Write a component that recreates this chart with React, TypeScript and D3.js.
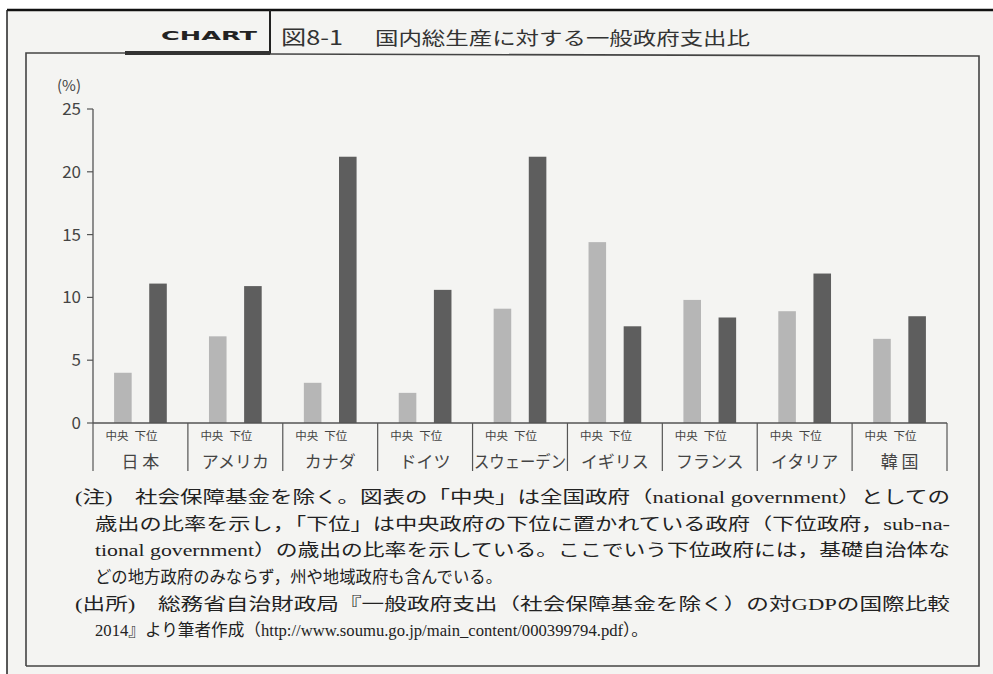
import React from "react";
import * as d3 from "d3";

const width = 993;
const height = 674;

const countries = ["日 本", "アメリカ", "カナダ", "ドイツ", "スウェーデン", "イギリス", "フランス", "イタリア", "韓 国"];
const series = ["中央", "下位"];
const central = [4.0, 6.9, 3.2, 2.4, 9.1, 14.4, 9.8, 8.9, 6.7];
const lower = [11.1, 10.9, 21.2, 10.6, 21.2, 7.7, 8.4, 11.9, 8.5];
const yTicks = [0, 5, 10, 15, 20, 25];

const notes = [
  "(注)　社会保障基金を除く。図表の「中央」は全国政府（national government）としての",
  "歳出の比率を示し，「下位」は中央政府の下位に置かれている政府（下位政府，sub-na-",
  "tional government）の歳出の比率を示している。ここでいう下位政府には，基礎自治体な",
  "どの地方政府のみならず，州や地域政府も含んでいる。",
  "(出所)　総務省自治財政局『一般政府支出（社会保障基金を除く）の対GDPの国際比較",
  "2014』より筆者作成（http://www.soumu.go.jp/main_content/000399794.pdf）。",
];

const margin = { top: 109, left: 93, right: 46, bottom: 251 };
const colors = { 中央: "#b6b6b6", 下位: "#5e5e5e" };
const sans = "'Noto Sans CJK JP', 'Noto Sans', sans-serif";
const serif = "'Liberation Serif', 'Noto Sans CJK JP', serif";

export default function App() {
  const data = countries.map((c, i) => ({ country: c, 中央: central[i], 下位: lower[i] }));

  const x0 = d3.scaleBand().domain(countries).range([margin.left, width - margin.right]);
  const x1 = d3.scaleBand().domain(series).range([0, x0.bandwidth()]).paddingInner(0.5).paddingOuter(0.6);
  const y = d3.scaleLinear().domain([0, 25]).range([height - margin.bottom, margin.top]);
  const y0 = y(0);

  // note lines: [x, baseline, fitted length]
  const noteLayout = [
    [75, 503, 875], [95, 530, 855], [95, 556, 855],
    [95, 583, 407], [75, 610, 875], [95, 636, 553],
  ];

  return (
    <svg width={width} height={height} style={{ position: "absolute", left: 0, top: 0 }}>
      <rect x={0} y={0} width={width} height={height} fill="#ffffff" />
      <rect x={7} y={10} width={width - 7} height={height - 10} fill="#f4f4f2" />
      <line x1={7} x2={width} y1={10} y2={10} stroke="#111" strokeWidth={2.5} />
      <line x1={7} x2={7} y1={10} y2={height} stroke="#222" strokeWidth={1.5} />

      {/* header */}
      <text x={161} y={40} fontFamily="'DejaVu Sans', sans-serif" fontWeight="bold" fontSize={13}
        textLength={96} lengthAdjust="spacingAndGlyphs" fill="#222">CHART</text>
      <line x1={270} x2={270} y1={10} y2={54} stroke="#222" strokeWidth={2} />
      <line x1={125} x2={270} y1={53} y2={53} stroke="#333" strokeWidth={4} />
      <text x={281} y={45} fontFamily={sans} fontSize={20} fill="#333"
        textLength={62} lengthAdjust="spacingAndGlyphs">図8-1</text>
      <text x={375} y={45} fontFamily={sans} fontSize={18} fill="#333"
        textLength={375} lengthAdjust="spacingAndGlyphs">国内総生産に対する一般政府支出比</text>

      {/* inner box */}
      <path d={`M26,${height - 8} L26,53 L125,53 M270,54 L979,56 L979,${height - 8} L26,${height - 8}`}
        fill="none" stroke="#444" strokeWidth={1.6} />

      {/* y axis */}
      <text x={57} y={91} fontFamily={sans} fontSize={15} fill="#444">(%)</text>
      <line x1={margin.left} x2={margin.left} y1={y(25)} y2={y0} stroke="#555" strokeWidth={1.3} />
      {yTicks.map(t => (
        <g key={t}>
          <line x1={margin.left - 6} x2={margin.left} y1={y(t)} y2={y(t)} stroke="#555" strokeWidth={1.2} />
          <text x={81} y={y(t)} dy="0.35em" textAnchor="end" fontFamily={sans} fontSize={17} fill="#444">{t}</text>
        </g>
      ))}

      {/* bars */}
      {data.map(d => (
        <g key={d.country} transform={`translate(${x0(d.country)},0)`}>
          {series.map(s => (
            <rect key={s} x={x1(s)} y={y(d[s])} width={x1.bandwidth()} height={y0 - y(d[s])} fill={colors[s]} />
          ))}
        </g>
      ))}

      {/* category axis */}
      <line x1={margin.left} x2={width - margin.right} y1={y0} y2={y0} stroke="#555" strokeWidth={1.3} />
      {countries.concat([""]).map((c, i) => {
        const gx = margin.left + i * x0.step();
        return <line key={"sep" + i} x1={gx} x2={gx} y1={y0} y2={y0 + 48} stroke="#555" strokeWidth={1.2} />;
      })}
      {countries.map(c => {
        const gx = x0(c);
        const cx = gx + x0.bandwidth() / 2;
        return (
          <g key={"lab" + c}>
            <text x={gx + 24} y={y0 + 17} textAnchor="middle" fontFamily={sans} fontSize={11.5} fill="#444">{series[0]}</text>
            <text x={gx + 53} y={y0 + 17} textAnchor="middle" fontFamily={sans} fontSize={11.5} fill="#444">{series[1]}</text>
            <text x={cx} y={y0 + 45} textAnchor="middle" fontFamily={sans} fontSize={17} fill="#444"
              {...(c.length > 4 ? { textLength: 92, lengthAdjust: "spacingAndGlyphs" } : {})}>{c}</text>
          </g>
        );
      })}

      {/* notes */}
      {notes.map((n, i) => (
        <text key={i} x={noteLayout[i][0]} y={noteLayout[i][1]} fontFamily={serif} fontSize={16.5} fill="#222"
          textLength={noteLayout[i][2]} lengthAdjust="spacingAndGlyphs">{n}</text>
      ))}
    </svg>
  );
}
